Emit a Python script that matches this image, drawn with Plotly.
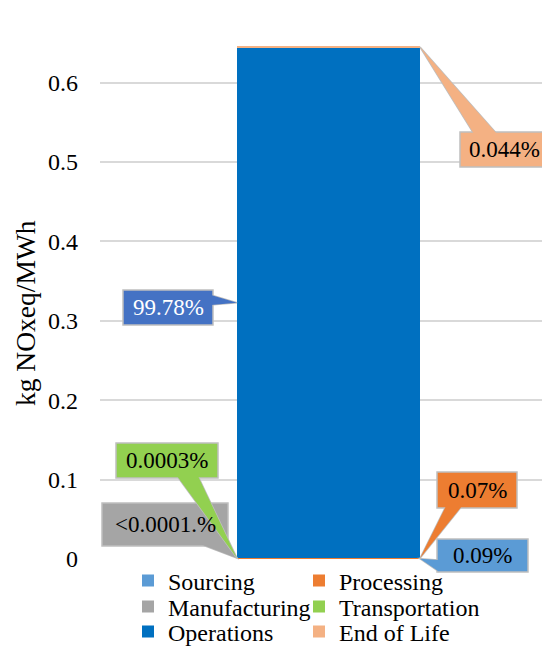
import plotly.graph_objects as go

# ---- data ----
stages = ["Sourcing", "Processing", "Manufacturing", "Transportation", "Operations", "End of Life"]
values = [0.00058, 0.00045, 0.0000005, 0.000002, 0.6436, 0.00028]   # kg NOxeq/MWh
shares = ["0.09%", "0.07%", "<0.0001.%", "0.0003%", "99.78%", "0.044%"]
colors = ["#5B9BD5", "#ED7D31", "#A5A5A5", "#92D050", "#0070C0", "#F4B183"]
label_bg = ["#5B9BD5", "#ED7D31", "#A5A5A5", "#92D050", "#4472C4", "#F4B183"]
label_fg = ["black", "black", "black", "black", "white", "black"]
tick_vals = [0, 0.1, 0.2, 0.3, 0.4, 0.5, 0.6]
tick_text = ["0", "0.1", "0.2", "0.3", "0.4", "0.5", "0.6"]
y_title = "kg NOxeq/MWh"

FONT = "Liberation Serif"
OFF = 8                      # page body margin of the html page
W, H = 550 - OFF, 650 - OFF
# plot area in page pixels: x 100..550, y 30..559
L, R, T, B = 100 - OFF, 0, 30 - OFF, H - (559 - OFF)
PW, PH = W - L - R, H - T - B
BAR_W = 1.0
BAR_PX = 183.0
BAR_CENTER_PX = 328.5        # page px
xr0 = -(BAR_CENTER_PX - 100) / BAR_PX * BAR_W
xr1 = xr0 + PW / BAR_PX * BAR_W
YMAX = 0.6663

def px2x(px):   # page px -> data x
    return xr0 + (px - 100) / PW * (xr1 - xr0)

def py2y(py):   # page py -> data y
    return (559 - py) / PH * YMAX

def px2paper(px):
    return (px - 100) / PW

def py2paper(py):
    return (559 - py) / PH

legend_names = ["legend", "legend2", "legend3", "legend4", "legend5", "legend6"]
# legend grid: two columns, three rows (page pixels)
legend_pos = [(128, 581), (299, 581), (128, 607), (299, 607), (128, 632), (299, 632)]

fig = go.Figure()
for s, v, c, lg in zip(stages, values, colors, legend_names):
    fig.add_trace(go.Bar(name=s, x=[0], y=[v], width=BAR_W, legend=lg,
                         marker=dict(color=c, line=dict(width=0))))

# callout layout (page pixel boxes & wedge bases), tips come from data
callouts = {
    "Sourcing":       dict(box=(437, 528, 539, 572), base=[(438, 560), (438, 571)], side="r"),
    "Processing":     dict(box=(437, 517, 472, 508), base=[(446, 506), (462, 506)], side="r"),
    "Manufacturing":  dict(box=(102, 228, 503, 546), base=[(200, 544), (226, 544)], side="l"),
    "Transportation": dict(box=(116, 218, 443, 478), base=[(177, 476), (198, 476)], side="l"),
    "Operations":     dict(box=(123, 213, 290, 325), base=[(211, 295), (211, 305)], side="l"),
    "End of Life":    dict(box=(460, 549, 132, 167), base=[(474, 134), (497, 134)], side="r"),
}

shapes = []
annotations = []
cum = 0.0
for s, v, bg, fg, txt in zip(stages, values, label_bg, label_fg, shares):
    mid = cum + v / 2
    cum += v
    co = callouts[s]
    tip_x = BAR_W / 2 if co["side"] == "r" else -BAR_W / 2
    tip_y = mid / YMAX            # value -> paper fraction of the linear y axis [0, YMAX]
    (a, b) = co["base"]
    path = "M{},{} L{},{} L{},{} Z".format(px2x(a[0]), py2paper(a[1]), tip_x, tip_y,
                                          px2x(b[0]), py2paper(b[1]))
    x0, x1, y0, y1 = co["box"]
    shapes.append(dict(type="path", path=path, xref="x", yref="paper",
                       fillcolor=bg, line=dict(color="#BFBFBF", width=1.5), layer="above"))
    shapes.append(dict(type="rect", xref="x", yref="paper",
                       x0=px2x(x0), x1=px2x(x1), y0=py2paper(y0), y1=py2paper(y1),
                       fillcolor=bg, line=dict(color="#BFBFBF", width=1.5), layer="above"))
    shapes.append(dict(type="path", path=path, xref="x", yref="paper",
                       fillcolor=bg, line=dict(width=0), layer="above"))
    annotations.append(dict(x=px2x((x0 + x1) / 2), y=py2paper((y0 + y1) / 2),
                            xref="x", yref="paper", text=txt, showarrow=False,
                            font=dict(family=FONT, size=23, color=fg),
                            xanchor="center", yanchor="middle"))

annotations.append(dict(x=px2paper(25), y=py2paper(313), xref="paper", yref="paper",
                        text=y_title, showarrow=False, textangle=-90,
                        font=dict(family=FONT, size=27.5, color="black"),
                        xanchor="center", yanchor="middle"))

def legend_cfg(px, py):
    return dict(orientation="h", x=px2paper(px), xanchor="left",
                y=py2paper(py), yanchor="middle",
                traceorder="normal",
                font=dict(family=FONT, size=24, color="black"),
                bgcolor="rgba(0,0,0,0)", itemwidth=30)

legends = {name: legend_cfg(px, py) for name, (px, py) in zip(legend_names, legend_pos)}

fig.update_layout(
    width=W, height=H,
    margin=dict(l=L, r=R, t=T, b=B, pad=0, autoexpand=False),
    paper_bgcolor="white", plot_bgcolor="white",
    barmode="stack",
    font=dict(family=FONT, size=24, color="black"),
    xaxis=dict(range=[xr0, xr1], showticklabels=False, showgrid=False,
               zeroline=False, showline=False, fixedrange=True),
    yaxis=dict(range=[0, YMAX], tickvals=tick_vals, ticktext=tick_text,
               showgrid=True, gridcolor="#D9D9D9", gridwidth=1.5,
               zeroline=False, showline=False, ticks="",
               ticklabelstandoff=21,
               tickfont=dict(family=FONT, size=24, color="black")),
    shapes=shapes,
    annotations=annotations,
    showlegend=True,
    **legends,
)

fig.write_html("out.html")
